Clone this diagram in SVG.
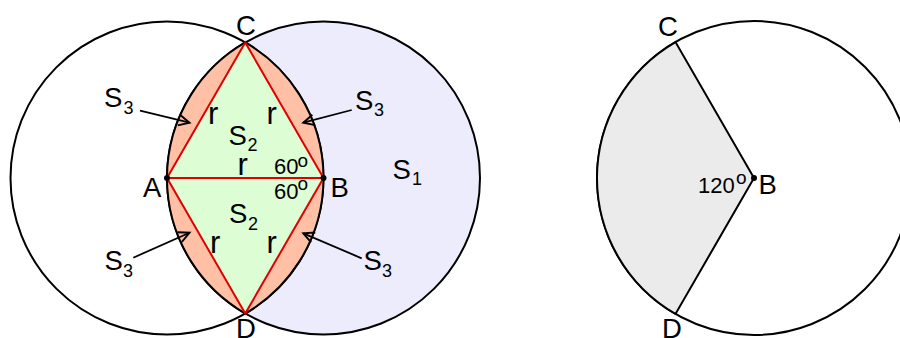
<svg xmlns="http://www.w3.org/2000/svg" width="900" height="338" viewBox="0 0 900 338">
<defs>
<marker id="arr" markerUnits="userSpaceOnUse" markerWidth="14" markerHeight="14" refX="10" refY="5" orient="auto" viewBox="-1 -1 13 12" overflow="visible">
<path d="M0,0 L10,5 L0,10" fill="none" stroke="#000" stroke-width="1.8"/>
</marker>
<style>
.t{font-family:"Liberation Sans",Arial,sans-serif;fill:#000}
.L{font-size:27.5px}
.sub{font-size:18px}
.r{font-size:31px}
.n{font-size:22px}
.deg{font-size:19px}
.circ{fill:none;stroke:#000;stroke-width:2}
.red{stroke:#e00000;stroke-width:2;fill:none}
.arrow{stroke:#000;stroke-width:1.8;fill:none;marker-end:url(#arr)}
</style>
</defs>
<rect width="900" height="338" fill="#fff"/>

<g id="left-figure">
<g id="circle-B"><circle cx="323.5" cy="178" r="156.5" fill="#ececfc" stroke="#000" stroke-width="2"/></g>
<g id="circle-A"><circle cx="167" cy="178" r="156.5" class="circ"/></g>
<g id="lens">
<path d="M245.25,42.47 A156.5,156.5 0 0 1 245.25,313.53 A156.5,156.5 0 0 1 245.25,42.47 Z" fill="#ffc0a5" stroke="#000" stroke-width="2"/>
</g>
<g id="triangles">
<path d="M167,178 L245.25,42.47 L323.5,178 Z" fill="#ddfdd5"/>
<path d="M167,178 L245.25,313.53 L323.5,178 Z" fill="#ddfdd5"/>
<path d="M167,178 L245.25,42.47 L323.5,178 L245.25,313.53 Z M167,178 L323.5,178" class="red"/>
</g>
<g id="point-A"><circle cx="167" cy="178" r="3" fill="#000"/></g>
<g id="point-B"><circle cx="323.5" cy="178" r="3" fill="#000"/></g>

<g id="connectors">
<path class="arrow" d="M140,110.7 L189.5,122.7"/>
<path class="arrow" d="M351.7,110 L303.3,122.7"/>
<path class="arrow" d="M133.3,257.7 L189.5,232.7"/>
<path class="arrow" d="M361.7,258.3 L303.3,233.3"/>
</g>

<g id="labels-left">
<text class="t L" x="236" y="35">C</text>
<text class="t L" x="143" y="197">A</text>
<text class="t L" x="330.5" y="197">B</text>
<text class="t L" x="236" y="337.5">D</text>
<text class="t L" x="104" y="107">S</text><text class="t sub" x="123.5" y="113.5">3</text>
<text class="t L" x="355" y="110">S</text><text class="t sub" x="374" y="116">3</text>
<text class="t L" x="104.5" y="270">S</text><text class="t sub" x="123" y="277">3</text>
<text class="t L" x="363.5" y="270">S</text><text class="t sub" x="382" y="277">3</text>
<text class="t L" x="228.5" y="145">S</text><text class="t sub" x="247.5" y="150.5">2</text>
<text class="t L" x="229" y="223">S</text><text class="t sub" x="248" y="230">2</text>
<text class="t L" x="392.5" y="179">S</text><text class="t sub" x="412" y="185">1</text>
<text class="t r" x="208" y="124">r</text>
<text class="t r" x="266.5" y="124">r</text>
<text class="t r" x="237.5" y="175">r</text>
<text class="t r" x="210" y="253">r</text>
<text class="t r" x="266.5" y="253">r</text>
<text class="t n" x="274" y="174.3">60</text><text class="t deg" x="297.5" y="166.5">o</text>
<text class="t n" x="274" y="199.3">60</text><text class="t deg" x="297.5" y="190">o</text>
</g>
</g>

<g id="right-figure">
<g id="circle-right"><circle cx="754" cy="178" r="157" class="circ"/></g>
<g id="sector">
<path d="M754,178 L675.5,42.03 A157,157 0 0 0 675.5,313.97 Z" fill="#ebebeb" stroke="#000" stroke-width="2" stroke-linejoin="miter"/>
</g>
<g id="point-B2"><circle cx="754" cy="178" r="3" fill="#000"/></g>
<g id="labels-right">
<text class="t L" x="658" y="36">C</text>
<text class="t L" x="662" y="337.5">D</text>
<text class="t L" x="758.5" y="194">B</text>
<text class="t n" x="698" y="192.7">120</text><text class="t deg" x="736" y="183.5">o</text>
</g>
</g>
</svg>
